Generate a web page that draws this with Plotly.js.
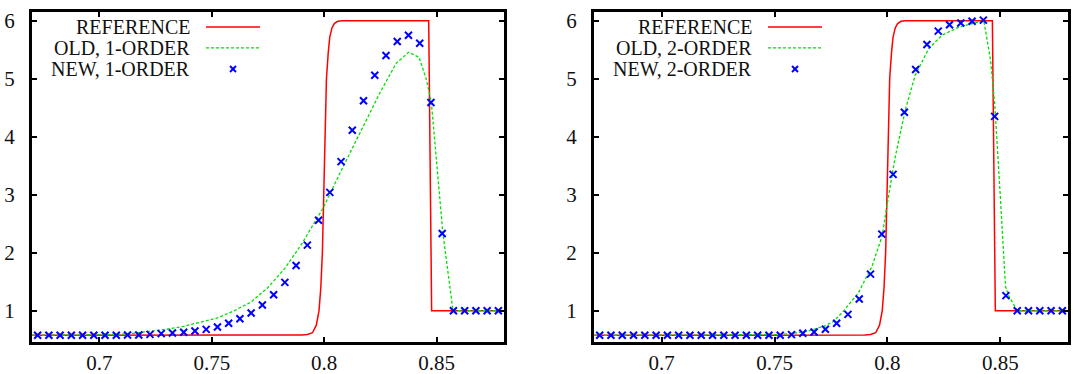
<!DOCTYPE html>
<html>
<head>
<meta charset="utf-8">
<script src="https://cdn.plot.ly/plotly-3.0.1.min.js"></script>
<style>
  html, body { margin: 0; padding: 0; background: #fff; }
  #chart { width: 1073px; height: 374px; }
</style>
</head>
<body>
<div id="chart"></div>
<script>
// ---------- data ----------
const xTickVals = [0.7, 0.75, 0.8, 0.85];
const xTickText = ["0.7", "0.75", "0.8", "0.85"];
const yTickVals = [1, 2, 3, 4, 5, 6];
const yTickText = ["1", "2", "3", "4", "5", "6"];

const seriesNames = ["REFERENCE", "OLD, 1-ORDER", "NEW, 1-ORDER", "OLD, 2-ORDER", "NEW, 2-ORDER"];

// reference solution (same in both panels)
const refX = [0.67, 0.785, 0.790, 0.7925, 0.7948, 0.7965, 0.7977, 0.7985, 0.7992, 0.7998, 0.8003, 0.8010,
              0.8018, 0.8025, 0.8035, 0.8045, 0.806, 0.808, 0.8465, 0.8478, 0.88];
const refY = [0.575, 0.575, 0.58, 0.59, 0.62, 0.75, 1.0, 1.4, 2.0, 3.0, 4.0, 5.0,
              5.45, 5.72, 5.88, 5.95, 5.99, 6.0, 6.0, 1.0, 1.0];

// old scheme, first order
const old1X = [0.67, 0.700, 0.7075, 0.715, 0.7225, 0.730, 0.7375, 0.745, 0.7525, 0.760, 0.7675, 0.775,
               0.7825, 0.790, 0.7995, 0.807, 0.8158, 0.8247, 0.8321, 0.8376, 0.8422, 0.8455, 0.8477,
               0.8528, 0.8573, 0.88];
const old1Y = [0.575, 0.58, 0.59, 0.61, 0.644, 0.68, 0.73, 0.80, 0.875, 1.0, 1.15, 1.40,
               1.73, 2.15, 2.77, 3.37, 4.06, 4.75, 5.27, 5.456, 5.37, 4.98, 4.58,
               2.34, 1.0, 1.0];

// new scheme cell centres
const newX = [0.6725, 0.6775, 0.6825, 0.6875, 0.6925, 0.6975, 0.7025, 0.7075, 0.7125, 0.7175,
              0.7225, 0.7275, 0.7325, 0.7375, 0.7425, 0.7475, 0.7525, 0.7575, 0.7625, 0.7675,
              0.7725, 0.7775, 0.7825, 0.7875, 0.7925, 0.7975, 0.8025, 0.8075, 0.8125, 0.8175,
              0.8225, 0.8275, 0.8325, 0.8375, 0.8425, 0.8475, 0.8525, 0.8575, 0.8625, 0.8675,
              0.8725, 0.8775];
const new1Y = [0.575, 0.575, 0.575, 0.575, 0.575, 0.575, 0.577, 0.577, 0.581, 0.581,
               0.592, 0.604, 0.615, 0.627, 0.650, 0.678, 0.719, 0.782, 0.862, 0.960,
               1.098, 1.276, 1.488, 1.78, 2.13, 2.56, 3.04, 3.57, 4.11, 4.62,
               5.06, 5.40, 5.64, 5.75, 5.61, 4.59, 2.33, 1.0, 1.0, 1.0,
               1.0, 1.0];

// old scheme, second order
const old2X = [0.67, 0.745, 0.752, 0.757, 0.7644, 0.7718, 0.776, 0.780, 0.787, 0.7931, 0.7976, 0.8002,
               0.8035, 0.8079, 0.8123, 0.8183, 0.8242, 0.8316, 0.839, 0.8427, 0.8457, 0.8476, 0.8501,
               0.8523, 0.8538, 0.8575, 0.88];
const old2Y = [0.575, 0.578, 0.588, 0.604, 0.644, 0.73, 0.81, 0.97, 1.30, 1.76, 2.28, 2.91,
               3.66, 4.46, 5.06, 5.52, 5.75, 5.89, 5.96, 6.0, 5.32, 4.52, 2.91,
               1.42, 1.25, 1.0, 1.0];

const new2Y = [0.575, 0.575, 0.575, 0.575, 0.575, 0.575, 0.575, 0.575, 0.575, 0.575,
               0.575, 0.575, 0.575, 0.575, 0.575, 0.575, 0.577, 0.587, 0.610, 0.633,
               0.679, 0.782, 0.937, 1.201, 1.63, 2.32, 3.35, 4.42, 5.16, 5.59,
               5.82, 5.93, 5.96, 5.99, 6.01, 4.35, 1.26, 1.0, 1.0, 1.0,
               1.0, 1.0];

// ---------- styling ----------
const RED = "#ff0000", GREEN = "#00e000", BLUE = "#0000ff";
const FONT = "Liberation Serif";
const TXT = "#111111";

function lineTrace(x, y, xa, ya, color, dash, width) {
  return {x, y, xaxis: xa, yaxis: ya, type: "scatter", mode: "lines",
          line: {color, dash, width}, hoverinfo: "skip", showlegend: false};
}
function ptsTrace(x, y, xa, ya) {
  return {x, y, xaxis: xa, yaxis: ya, type: "scatter", mode: "markers",
          marker: {symbol: "x-thin", size: 7, color: BLUE, line: {color: BLUE, width: 2}},
          hoverinfo: "skip", showlegend: false, cliponaxis: false};
}

const traces = [
  lineTrace(refX, refY, "x", "y", RED, "solid", 1.5),
  lineTrace(old1X, old1Y, "x", "y", GREEN, "3px,2px", 1.3),
  ptsTrace(newX, new1Y, "x", "y"),
  lineTrace(refX, refY, "x2", "y2", RED, "solid", 1.5),
  lineTrace(old2X, old2Y, "x2", "y2", GREEN, "3px,2px", 1.3),
  ptsTrace(newX, new2Y, "x2", "y2")
];

function xAxis(domain, anchor) {
  return {domain, anchor, range: [0.67, 0.88], tickvals: xTickVals, ticktext: xTickText,
          ticks: "inside", ticklen: 5, tickwidth: 2, tickcolor: "#000",
          showline: true, linecolor: "#000", linewidth: 3, mirror: "ticks",
          showgrid: false, zeroline: false, automargin: false, ticklabelstandoff: 0,
          tickfont: {family: FONT, size: 21, color: TXT}};
}
function yAxis(anchor) {
  return {domain: [0, 1], anchor, range: [0.46, 6.15], tickvals: yTickVals, ticktext: yTickText,
          ticks: "inside", ticklen: 5, tickwidth: 2, tickcolor: "#000",
          showline: true, linecolor: "#000", linewidth: 3, mirror: "ticks",
          showgrid: false, zeroline: false, automargin: false, ticklabelstandoff: 10,
          tickfont: {family: FONT, size: 21, color: TXT}};
}

// legend (gnuplot style: right-aligned text, sample to the right)
const legendRows = [0.9546, 0.891, 0.8274];
const annotations = [];
const shapes = [];
function addLegend(xr, yr, names, widthPx) {
  const textX = 160 / widthPx, s0 = 174 / widthPx, s1 = 228 / widthPx, sm = 201 / widthPx;
  names.forEach((n, i) => {
    annotations.push({xref: xr + " domain", yref: yr + " domain", x: textX, y: legendRows[i],
                      xanchor: "right", yanchor: "middle", showarrow: false, text: n,
                      font: {family: FONT, size: 20, color: TXT}});
  });
  shapes.push({type: "line", xref: xr + " domain", yref: yr + " domain", x0: s0, x1: s1,
               y0: legendRows[0], y1: legendRows[0], line: {color: RED, width: 1.5}});
  shapes.push({type: "line", xref: xr + " domain", yref: yr + " domain", x0: s0, x1: s1,
               y0: legendRows[1], y1: legendRows[1], line: {color: GREEN, width: 1.3, dash: "3px,2px"}});
  const dx = 3 / widthPx, dy = 3 / 330;
  shapes.push({type: "line", xref: xr + " domain", yref: yr + " domain", x0: sm - dx, x1: sm + dx,
               y0: legendRows[2] - dy, y1: legendRows[2] + dy, line: {color: BLUE, width: 2}});
  shapes.push({type: "line", xref: xr + " domain", yref: yr + " domain", x0: sm - dx, x1: sm + dx,
               y0: legendRows[2] + dy, y1: legendRows[2] - dy, line: {color: BLUE, width: 2}});
}
addLegend("x", "y", [seriesNames[0], seriesNames[1], seriesNames[2]], 472);
addLegend("x2", "y2", [seriesNames[0], seriesNames[3], seriesNames[4]], 474);

const layout = {
  width: 1073, height: 374,
  margin: {l: 32, r: 5, t: 12, b: 32, pad: 0},
  paper_bgcolor: "#fff", plot_bgcolor: "#fff",
  showlegend: false,
  font: {family: FONT, color: TXT},
  xaxis: xAxis([0, 0.4556], "y"),
  yaxis: yAxis("x"),
  xaxis2: xAxis([0.5425, 1], "y2"),
  yaxis2: yAxis("x2"),
  annotations, shapes
};

Plotly.newPlot("chart", traces, layout, {staticPlot: true, displayModeBar: false});
</script>
</body>
</html>
